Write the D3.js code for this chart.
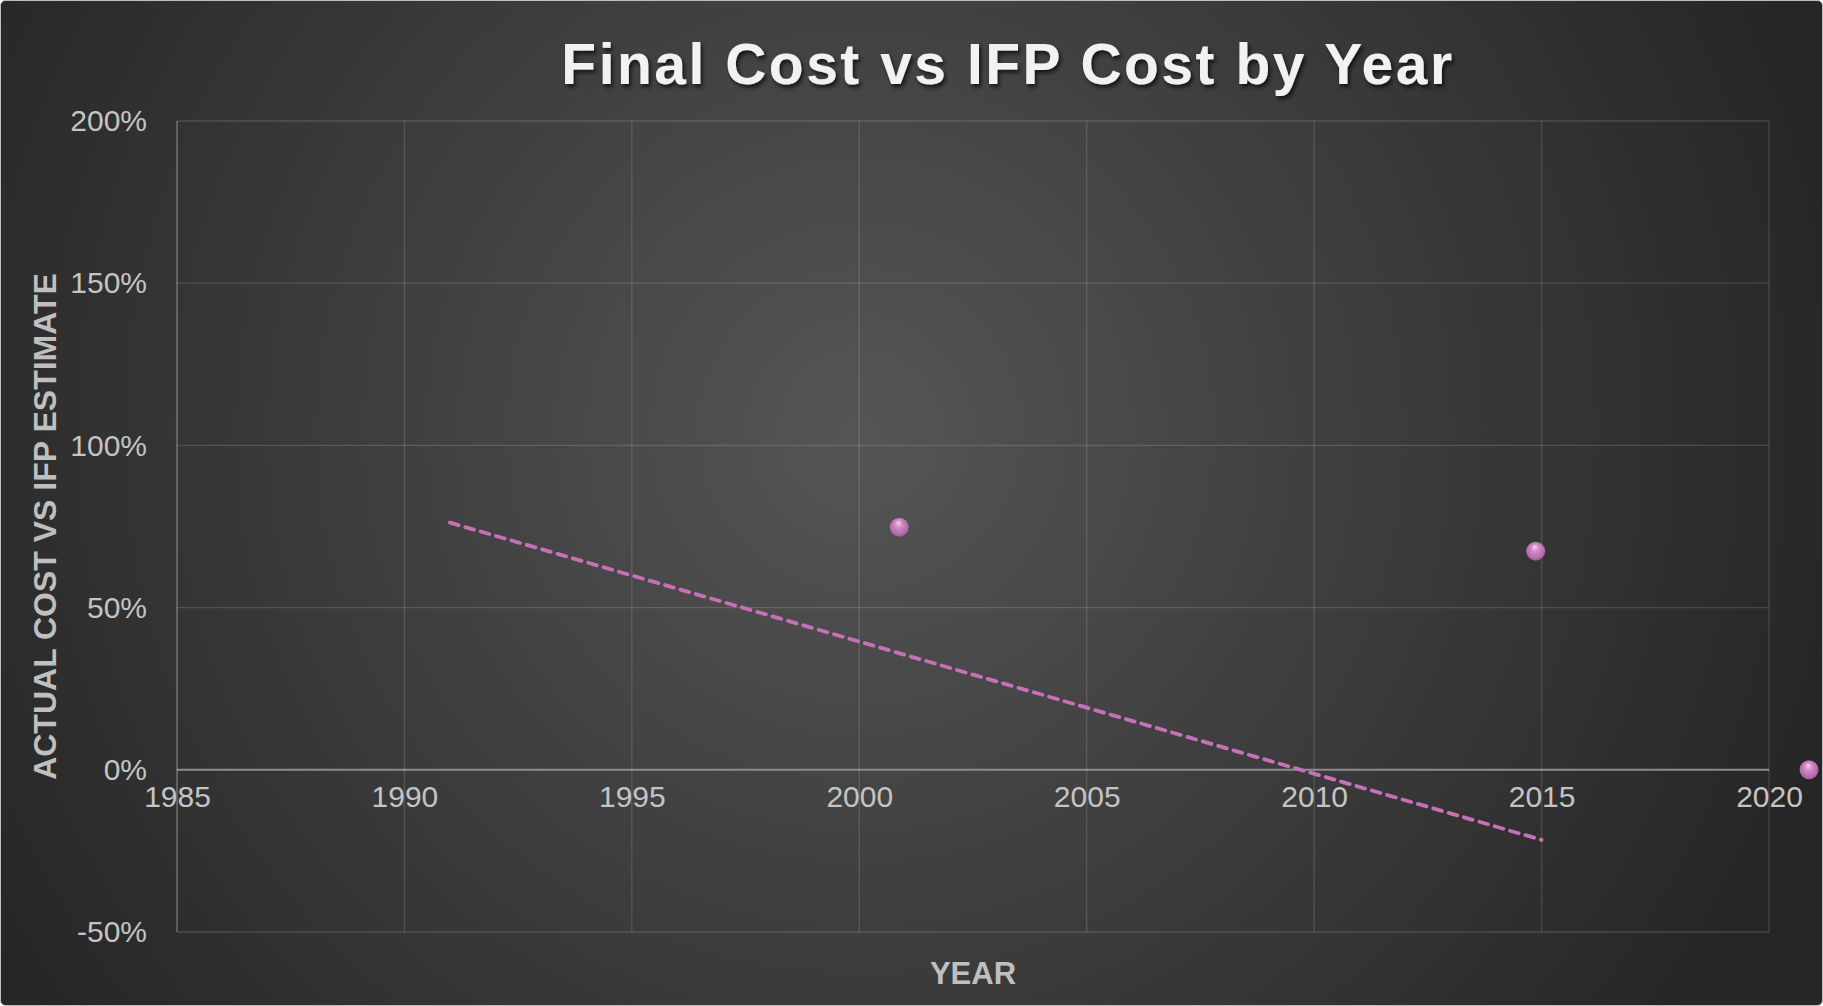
<!DOCTYPE html>
<html>
<head>
<meta charset="utf-8">
<script src="https://cdn.jsdelivr.net/npm/d3@7"></script>
<style>
  html, body { margin: 0; padding: 0; background: #ffffff; }
  svg { display: block; }
</style>
</head>
<body>
<div class="cost_chart"></div>
<script>
(function() {

	var width = 1823
	var height = 1006
	var margin = {top: 121, right: 54, bottom: 74, left: 177}

	// scatter points (year, actual cost vs IFP estimate)
	var pointYears = [2000.88, 2014.87, 2020.88]
	var pointValues = [0.748, 0.674, 0.0]

	// linear trendline end points
	var trendYears = [1991, 2015]
	var trendValues = [0.762, -0.216]

	var xTicks = [1985, 1990, 1995, 2000, 2005, 2010, 2015, 2020]
	var yTicks = [-0.5, 0, 0.5, 1, 1.5, 2]

	var svg = d3.select('.cost_chart')
				.append('svg')
				.attr("width", width)
				.attr("height", height)

	var defs = svg.append("defs")

	var bg = defs.append("radialGradient")
				 .attr("id", "bgGrad")
				 .attr("gradientUnits", "userSpaceOnUse")
				 .attr("cx", 860)
				 .attr("cy", 430)
				 .attr("r", 1000)
	bg.append("stop").attr("offset", "0%").attr("stop-color", "#555555")
	bg.append("stop").attr("offset", "100%").attr("stop-color", "#262626")

	var ball = defs.append("radialGradient")
				   .attr("id", "ballGrad")
				   .attr("cx", "50%")
				   .attr("cy", "50%")
				   .attr("fx", "45%")
				   .attr("fy", "25%")
				   .attr("r", "60%")
	ball.append("stop").attr("offset", "0%").attr("stop-color", "#f3d2ee")
	ball.append("stop").attr("offset", "35%").attr("stop-color", "#cf8ac6")
	ball.append("stop").attr("offset", "80%").attr("stop-color", "#b066a6")
	ball.append("stop").attr("offset", "100%").attr("stop-color", "#7a3e72")

	var shadow = defs.append("filter")
					 .attr("id", "titleShadow")
					 .attr("x", "-10%").attr("y", "-30%")
					 .attr("width", "120%").attr("height", "160%")
	shadow.append("feDropShadow")
		  .attr("dx", 2).attr("dy", 3)
		  .attr("stdDeviation", 2)
		  .attr("flood-color", "#000000")
		  .attr("flood-opacity", 0.7)

	svg.append("rect")
	   .attr("x", 0.5).attr("y", 0.5)
	   .attr("width", width - 1).attr("height", height - 1)
	   .attr("rx", 5)
	   .attr("fill", "url(#bgGrad)")
	   .attr("stroke", "#bfbfbf")
	   .attr("stroke-width", 1)

	var xScale = d3.scaleLinear()
				   .domain([1985, 2020])
				   .range([margin.left, width - margin.right])

	var yScale = d3.scaleLinear()
				   .domain([-0.5, 2])
				   .range([height - margin.bottom, margin.top])

	// gridlines
	var grid = svg.append("g").attr("class", "grid")

	grid.selectAll(".hgrid")
		.data(yTicks)
		.enter()
		.append("line")
		.attr("x1", xScale(1985))
		.attr("x2", xScale(2020))
		.attr("y1", function(d) { return yScale(d) })
		.attr("y2", function(d) { return yScale(d) })
		.attr("stroke", function(d) { return d === 0 ? "#8c8c8c" : "rgba(255,255,255,0.14)" })
		.attr("stroke-width", function(d) { return d === 0 ? 2 : 1.3 })

	grid.selectAll(".vgrid")
		.data(xTicks)
		.enter()
		.append("line")
		.attr("x1", function(d) { return xScale(d) })
		.attr("x2", function(d) { return xScale(d) })
		.attr("y1", yScale(2))
		.attr("y2", yScale(-0.5))
		.attr("stroke", function(d) { return d === 1985 ? "rgba(255,255,255,0.35)" : "rgba(255,255,255,0.14)" })
		.attr("stroke-width", 1.3)

	// axes (labels only)
	var yAxis = d3.axisLeft(yScale)
				  .tickValues(yTicks)
				  .tickFormat(function(d) { return Math.round(d * 100) + "%" })
				  .tickSize(0)
				  .tickPadding(30)

	var xAxis = d3.axisBottom(xScale)
				  .tickValues(xTicks)
				  .tickFormat(d3.format("d"))
				  .tickSize(0)
				  .tickPadding(16)

	svg.append("g")
	   .attr("class", "y-axis")
	   .attr("transform", "translate(" + margin.left + ",0)")
	   .call(yAxis)
	   .call(function(g) { g.select(".domain").remove() })
	   .selectAll("text")
	   .attr("font-family", "Liberation Sans, Arial, sans-serif")
	   .attr("font-size", "30px")
	   .attr("fill", "#c4c4c4")

	svg.append("g")
	   .attr("class", "x-axis")
	   .attr("transform", "translate(0," + yScale(0) + ")")
	   .call(xAxis)
	   .call(function(g) { g.select(".domain").remove() })
	   .selectAll("text")
	   .attr("font-family", "Liberation Sans, Arial, sans-serif")
	   .attr("font-size", "30px")
	   .attr("fill", "#c4c4c4")

	// trendline
	var trend = trendYears.map(function(y, i) { return [y, trendValues[i]] })

	svg.append("path")
	   .datum(trend)
	   .attr("d", d3.line()
	   				.x(function(d) { return xScale(d[0]) })
	   				.y(function(d) { return yScale(d[1]) }))
	   .attr("fill", "none")
	   .attr("stroke", "#c670b6")
	   .attr("stroke-width", 3.8)
	   .attr("stroke-linecap", "round")
	   .attr("stroke-dasharray", "9,7")

	// points
	var points = pointYears.map(function(y, i) { return [y, pointValues[i]] })

	svg.append("g")
	   .selectAll("circle")
	   .data(points)
	   .enter()
	   .append("circle")
	   .attr("cx", function(d) { return xScale(d[0]) })
	   .attr("cy", function(d) { return yScale(d[1]) })
	   .attr("r", 9.5)
	   .attr("fill", "url(#ballGrad)")

	// titles
	svg.append("text")
	   .text("Final Cost vs IFP Cost by Year")
	   .attr("x", 1008)
	   .attr("y", 84)
	   .attr("text-anchor", "middle")
	   .attr("font-family", "Liberation Sans, Arial, sans-serif")
	   .attr("font-weight", "bold")
	   .attr("font-size", "57px")
	   .attr("letter-spacing", "2.5px")
	   .attr("fill", "#f2f2f2")
	   .attr("filter", "url(#titleShadow)")

	svg.append("text")
	   .text("YEAR")
	   .attr("x", (xScale(1985) + xScale(2020)) / 2)
	   .attr("y", 984)
	   .attr("text-anchor", "middle")
	   .attr("font-family", "Liberation Sans, Arial, sans-serif")
	   .attr("font-weight", "bold")
	   .attr("font-size", "31px")
	   .attr("fill", "#bfbfbf")

	svg.append("text")
	   .text("ACTUAL COST VS IFP ESTIMATE")
	   .attr("transform", "translate(56," + ((yScale(2) + yScale(-0.5)) / 2) + ") rotate(-90)")
	   .attr("text-anchor", "middle")
	   .attr("font-family", "Liberation Sans, Arial, sans-serif")
	   .attr("font-weight", "bold")
	   .attr("font-size", "32px")
	   .attr("fill", "#bfbfbf")

}())
</script>
</body>
</html>
